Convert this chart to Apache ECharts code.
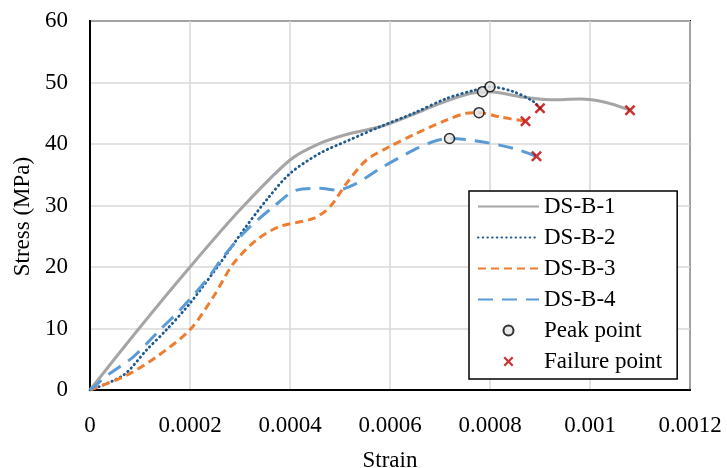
<!DOCTYPE html>
<html>
<head>
<meta charset="utf-8">
<script src="https://cdn.jsdelivr.net/npm/echarts@6/dist/echarts.min.js"></script>
<style>
  html, body { margin: 0; padding: 0; background: #fff; }
  #chart { width: 727px; height: 468px; }
</style>
</head>
<body>
<div id="chart"></div>
<script>
// [strain, stress (MPa)]
const ds1 = [[0, 0], [0.0001, 10.2], [0.0002, 20.0], [0.0003, 29.3], [0.0004, 37.4], [0.00046, 40.1], [0.00052, 41.7],
  [0.00058, 42.8], [0.00064, 44.6], [0.0007, 46.6], [0.00076, 48.2], [0.0008, 48.5], [0.00086, 47.7], [0.00092, 47.2],
  [0.00098, 47.3], [0.00103, 46.8], [0.00108, 45.5]]
const ds2 = [[0, 0], [0.0000667, 2.4], [0.000113, 6.5], [0.000153, 9.8], [0.0002, 14.1], [0.00026, 20.6], [0.000307, 26.0],
  [0.000353, 30.9], [0.0004, 35.2], [0.00046, 38.5], [0.00052, 40.7], [0.00058, 42.8], [0.000647, 45.0], [0.000713, 47.4],
  [0.000767, 48.7], [0.0008, 49.3], [0.000847, 48.5], [0.000887, 46.9], [0.0009, 45.8]]
const ds3 = [[0, 0], [0.0000733, 2.4], [0.000133, 5.4], [0.0002, 9.8], [0.000247, 15.2], [0.000287, 20.6], [0.000333, 24.4],
  [0.00038, 26.6], [0.000447, 27.9], [0.00048, 29.8], [0.000513, 33.6], [0.000553, 37.4], [0.0006, 39.6], [0.000647, 41.5],
  [0.000713, 43.9], [0.000753, 45.0], [0.000778, 45.1], [0.00082, 44.4], [0.000871, 43.7]]
const ds4 = [[0, 0], [0.00004, 2.7], [0.0000867, 5.4], [0.00014, 9.8], [0.00018, 13.0], [0.000233, 17.9], [0.000267, 21.7],
  [0.000313, 26.0], [0.000367, 29.8], [0.000413, 32.5], [0.00046, 32.8], [0.000493, 32.5], [0.000533, 33.6], [0.00058, 36.0],
  [0.000647, 39.0], [0.000687, 40.4], [0.000719, 40.9], [0.00078, 40.4], [0.000847, 39.3], [0.000893, 38.0]]
const peakPoints = [[0.000785, 48.5], [0.0008, 49.3], [0.000778, 45.1], [0.000719, 40.9]]
const failurePoints = [[0.00108, 45.5], [0.0009, 45.8], [0.000871, 43.7], [0.000893, 38.0]]

const font = 'Liberation Serif'
const fontSize = 23
const crossPath = 'path://M0,1.6L1.6,0L5,3.4L8.4,0L10,1.6L6.6,5L10,8.4L8.4,10L5,6.6L1.6,10L0,8.4L3.4,5Z'

const chart = echarts.init(document.getElementById('chart'))

const lineSeries = (name, data, color, width, type, cap) => ({
  name: name,
  type: 'line',
  data: data,
  smooth: 0.3,
  symbol: 'none',
  z: 3,
  lineStyle: { color: color, width: width, type: type, cap: cap || 'butt' },
  itemStyle: { color: color }
})

// line entries in the legend get no marker, just the stroke
const lineLegend = name => ({ name: name, itemStyle: { opacity: 0 } })

chart.setOption({
  animation: false,
  textStyle: { fontFamily: font },
  grid: {
    left: 90, right: 37, top: 21, bottom: 78,
    outerBoundsMode: 'none',
    show: true, borderColor: '#000', borderWidth: 2, backgroundColor: 'transparent'
  },
  legend: {
    orient: 'vertical',
    left: 469,
    top: 191,
    padding: [4, 15, 6, 8],
    itemGap: 8,
    itemWidth: 61,
    itemHeight: 10,
    backgroundColor: '#fff',
    borderColor: '#000',
    borderWidth: 1.5,
    textStyle: { fontFamily: font, fontSize: fontSize, color: '#000' },
    data: [lineLegend('DS-B-1'), lineLegend('DS-B-2'), lineLegend('DS-B-3'), lineLegend('DS-B-4'), 'Peak point', 'Failure point']
  },
  xAxis: {
    type: 'value',
    min: 0,
    max: 0.0012,
    interval: 0.0002,
    name: 'Strain',
    nameLocation: 'middle',
    nameGap: 59,
    nameTextStyle: { fontFamily: font, fontSize: fontSize, color: '#000' },
    axisLine: { lineStyle: { color: '#000', width: 2 } },
    axisTick: { show: false },
    axisLabel: {
      fontFamily: font, fontSize: fontSize, color: '#000', margin: 24,
      formatter: v => String(+v.toFixed(4))
    },
    splitLine: { lineStyle: { color: '#d9d9d9', width: 1.5 } }
  },
  yAxis: {
    type: 'value',
    min: 0,
    max: 60,
    interval: 10,
    name: 'Stress (MPa)',
    nameLocation: 'middle',
    nameGap: 56,
    nameTextStyle: { fontFamily: font, fontSize: fontSize, color: '#000', padding: [0, 22, 0, 0] },
    axisLine: { show: true, lineStyle: { color: '#000', width: 2 } },
    axisTick: { show: false },
    axisLabel: { fontFamily: font, fontSize: fontSize, color: '#000', margin: 22 },
    splitLine: { lineStyle: { color: '#d9d9d9', width: 1.5 } }
  },
  series: [
    lineSeries('DS-B-1', ds1, '#a5a5a5', 3, 'solid'),
    lineSeries('DS-B-2', ds2, '#1f5a8f', 2.8, [0.5, 4.2], 'round'),
    lineSeries('DS-B-3', ds3, '#ed7d31', 3, [8, 5]),
    lineSeries('DS-B-4', ds4, '#5b9bd5', 3, [15, 9]),
    {
      name: 'Peak point',
      type: 'scatter',
      data: peakPoints,
      symbol: 'circle',
      symbolSize: 10,
      z: 5,
      itemStyle: { color: '#e3e3e3', borderColor: '#000', borderWidth: 1.5 }
    },
    {
      name: 'Failure point',
      type: 'scatter',
      data: failurePoints,
      symbol: crossPath,
      symbolSize: 11,
      z: 5,
      itemStyle: { color: '#c00000' }
    }
  ]
})
</script>
</body>
</html>
